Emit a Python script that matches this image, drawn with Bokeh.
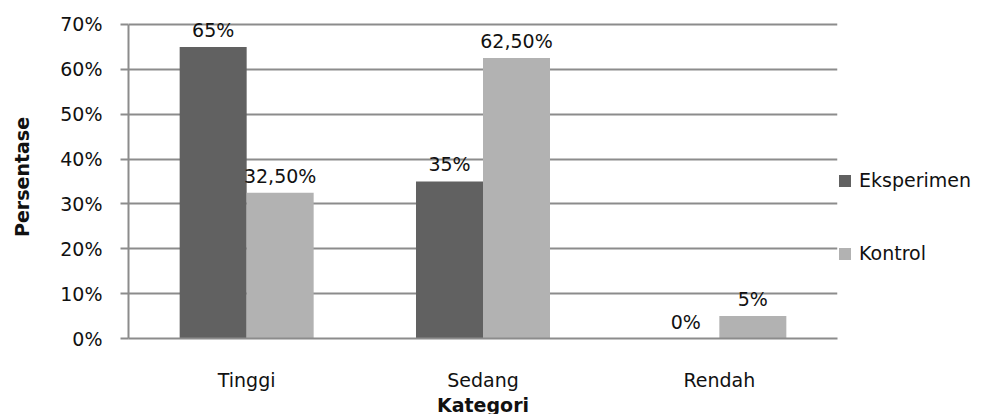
from bokeh.plotting import figure
from bokeh.models import (FactorRange, Range1d, ColumnDataSource, FixedTicker,
                          NumeralTickFormatter, LabelSet, Legend)
from bokeh.transform import dodge
from bokeh.embed import file_html
from bokeh.resources import INLINE
from bokeh.core.properties import value

# ---- data ----
categories = ["Tinggi", "Sedang", "Rendah"]
series_names = ["Eksperimen", "Kontrol"]
eksperimen = [0.65, 0.35, 0.0]
kontrol = [0.325, 0.625, 0.05]
eksperimen_labels = ["65%", "35%", "0%"]
kontrol_labels = ["32,50%", "62,50%", "5%"]
y_ticks = [0.0, 0.1, 0.2, 0.3, 0.4, 0.5, 0.6, 0.7]
y_axis_title = "Persentase"
x_axis_title = "Kategori"

# ---- styles ----
FONT = "DejaVu Sans"
FS = "19px"
DARK = "#616161"
LIGHT = "#b2b2b2"
GRID = "#8c8c8c"
TXT = "#111111"
BAR_W = 0.2835
OFF = BAR_W / 2

src = ColumnDataSource(data=dict(
    cat=categories, eks=eksperimen, kon=kontrol,
    eks_lab=eksperimen_labels, kon_lab=kontrol_labels,
))

p = figure(
    frame_width=709, frame_height=323,
    x_range=FactorRange(*categories, range_padding=0),
    y_range=Range1d(0, 0.72),
    output_backend="svg", toolbar_location=None,
    min_border_left=128, min_border_right=154,
    min_border_top=15, min_border_bottom=76,
    outline_line_color=None, background_fill_color="white",
    border_fill_color="white",
)

r1 = p.vbar(x=dodge("cat", -OFF, range=p.x_range), top="eks", width=BAR_W,
            source=src, fill_color=DARK, line_color=None)
r2 = p.vbar(x=dodge("cat", OFF, range=p.x_range), top="kon", width=BAR_W,
            source=src, fill_color=LIGHT, line_color=None)

for col, ycol, off in (("eks_lab", "eks", -OFF), ("kon_lab", "kon", OFF)):
    p.add_layout(LabelSet(
        x=dodge("cat", off, range=p.x_range), y=ycol, text=col, source=src,
        text_align="center", text_baseline="alphabetic", y_offset=10,
        text_font=value(FONT), text_font_size=value(FS), text_color=TXT,
    ))

# grid
p.xgrid.visible = False
p.ygrid.ticker = FixedTicker(ticks=y_ticks)
p.ygrid.grid_line_color = GRID
p.ygrid.grid_line_width = 2

# y axis
ya = p.yaxis[0]
ya.ticker = FixedTicker(ticks=y_ticks)
ya.formatter = NumeralTickFormatter(format="0%")
ya.bounds = (0, 0.7)
ya.axis_line_color = GRID
ya.axis_line_width = 2
ya.major_tick_line_color = GRID
ya.major_tick_line_width = 2
ya.major_tick_out = 8
ya.major_tick_in = 0
ya.minor_tick_line_color = None
ya.major_label_standoff = 18
ya.major_label_text_font = FONT
ya.major_label_text_font_size = FS
ya.major_label_text_color = TXT
ya.axis_label = y_axis_title
ya.axis_label_text_font = FONT
ya.axis_label_text_font_size = FS
ya.axis_label_text_font_style = "bold"
ya.axis_label_text_color = TXT
ya.axis_label_standoff = 24

# x axis
xa = p.xaxis[0]
xa.axis_line_color = GRID
xa.axis_line_width = 2
xa.major_tick_line_color = None
xa.major_tick_out = 0
xa.major_tick_in = 0
xa.minor_tick_line_color = None
xa.major_label_standoff = 30
xa.major_label_text_font = FONT
xa.major_label_text_font_size = FS
xa.major_label_text_color = TXT
xa.axis_label = x_axis_title
xa.axis_label_text_font = FONT
xa.axis_label_text_font_size = FS
xa.axis_label_text_font_style = "bold"
xa.axis_label_text_color = TXT
xa.axis_label_standoff = 0

legend = Legend(
    items=[(series_names[0], [r1]), (series_names[1], [r2])],
    location=(0, 74), orientation="vertical",
    glyph_width=15, glyph_height=15, label_standoff=7,
    label_text_font=FONT, label_text_font_size=FS, label_text_color=TXT,
    label_height=15, spacing=51, padding=0, margin=0,
    border_line_color=None, background_fill_alpha=0,
)
p.add_layout(legend, "right")

open("out.html", "w").write(file_html(p, INLINE))
